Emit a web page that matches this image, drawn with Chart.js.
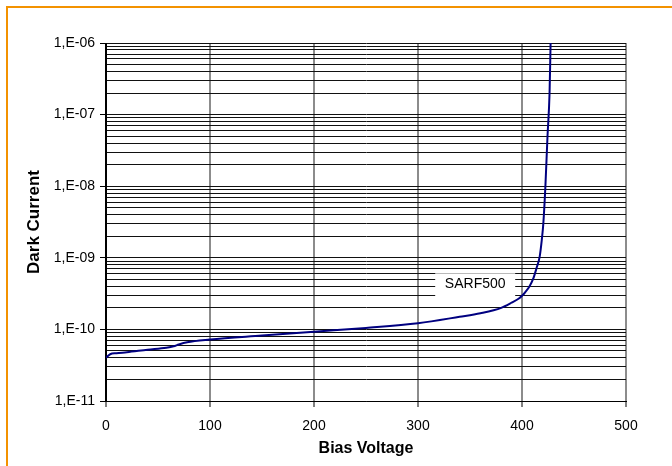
<!DOCTYPE html>
<html lang="en">

<head>
    <meta charset="UTF-8">
    <title>Dark Current vs Bias Voltage</title>
    <script src="https://cdn.jsdelivr.net/npm/chart.js"></script>
    <style>
        body {
            margin: 0;
            padding: 0;
            background: #ffffff;
            overflow: hidden;
        }

        #frame {
            position: absolute;
            left: 6px;
            top: 6px;
            width: 700px;
            height: 500px;
            border-left: 2px solid #f39200;
            border-top: 2px solid #f39200;
        }

        #chart-container {
            position: absolute;
            left: 0;
            top: 0;
            width: 672px;
            height: 466px;
        }
    </style>
</head>

<body>
    <div id="frame"></div>
    <div id="chart-container">
        <canvas id="ivChart" width="672" height="466"></canvas>
    </div>
    <script>
        // data
        const biasVoltage = [0, 1, 4, 10, 20, 40, 58, 65, 70, 78, 100, 150, 200, 250, 300, 340, 360, 380, 390,
            397, 400, 403, 407, 411, 414, 417, 419, 420.5, 422.5, 424.5, 426.5, 427.5];
        const darkCurrent = [4.0e-11, 4.15e-11, 4.5e-11, 4.65e-11, 4.8e-11, 5.2e-11, 5.55e-11, 5.8e-11, 6.15e-11, 6.6e-11,
            7.2e-11, 8.2e-11, 9.3e-11, 1.05e-10, 1.22e-10, 1.5e-10, 1.68e-10, 2.0e-10, 2.36e-10,
            2.7e-10, 2.95e-10, 3.3e-10, 3.95e-10, 5.2e-10, 7.2e-10, 1.04e-9, 1.77e-9, 3.0e-9, 1.0e-8, 4.9e-8, 2.0e-7, 1.0e-6];
        const decades = [-11, -10, -9, -8, -7, -6];
        const xTicks = [0, 100, 200, 300, 400, 500];
        const seriesName = 'SARF500';
        const seriesLabelAt = { x: 355, y: 4.0e-10 };

        const font = "'Liberation Sans', Arial, sans-serif";

        // 1,2..9 x 10^n grid lines, label only the decades
        let yTicks = [];
        decades.forEach((e, i) => {
            const last = i === decades.length - 1;
            for (let m = 1; m <= (last ? 1 : 9); m++) {
                yTicks.push({ value: Number((m + 'e' + e)), major: m === 1 });
            }
        });

        function isDecade(v) {
            const l = Math.log10(v);
            return Math.abs(l - Math.round(l)) < 1e-6;
        }

        const seriesLabel = {
            id: 'seriesLabel',
            beforeDatasetsDraw(chart) {
                const c = chart.ctx;
                const px = chart.scales.x.getPixelForValue(seriesLabelAt.x);
                const py = chart.scales.y.getPixelForValue(seriesLabelAt.y);
                c.save();
                c.fillStyle = '#ffffff';
                c.fillRect(px - 40, py - 13, 80, 26);
                c.fillStyle = '#000000';
                c.font = '14px ' + font;
                c.textAlign = 'center';
                c.textBaseline = 'middle';
                c.fillText(seriesName, px, py - 2);
                c.restore();
            }
        };

        const ctx = document.getElementById('ivChart').getContext('2d');
        const chart = new Chart(ctx, {
            type: 'line',
            data: {
                datasets: [{
                    label: seriesName,
                    data: biasVoltage.map((v, i) => ({ x: v, y: darkCurrent[i] })),
                    borderColor: '#000080',
                    borderWidth: 2,
                    pointRadius: 0,
                    cubicInterpolationMode: 'monotone',
                    fill: false
                }]
            },
            options: {
                responsive: false,
                animation: false,
                layout: {
                    padding: { left: 8, top: 43, right: 46, bottom: 8 }
                },
                plugins: {
                    legend: { display: false },
                    tooltip: { enabled: false }
                },
                scales: {
                    x: {
                        type: 'linear',
                        min: 0,
                        max: 500,
                        afterFit: scale => { scale.height = 57; },
                        afterBuildTicks: scale => { scale.ticks = xTicks.map(v => ({ value: v })); },
                        border: { display: true, color: '#000000', width: 1 },
                        grid: {
                            color: c => c.tick && c.tick.value === 0 ? '#000000' : '#8c8c8c',
                            lineWidth: 2,
                            tickLength: 6,
                            tickColor: '#000000',
                            tickWidth: 1
                        },
                        ticks: {
                            color: '#000000',
                            font: { family: font, size: 14 },
                            padding: 11,
                            maxRotation: 0
                        },
                        title: {
                            display: true,
                            text: 'Bias Voltage',
                            color: '#000000',
                            font: { family: font, size: 16, weight: 'bold' },
                            padding: 0
                        }
                    },
                    y: {
                        type: 'logarithmic',
                        min: 1e-11,
                        max: 1e-6,
                        afterFit: scale => { scale.width = 98; },
                        afterBuildTicks: scale => { scale.ticks = yTicks.map(t => ({ value: t.value, major: t.major })); },
                        border: { display: true, color: '#000000', width: 1 },
                        grid: {
                            color: '#111111',
                            lineWidth: 1,
                            tickLength: 6,
                            tickColor: c => c.tick && isDecade(c.tick.value) ? '#000000' : 'rgba(0,0,0,0)',
                            tickWidth: 1
                        },
                        ticks: {
                            autoSkip: false,
                            color: '#000000',
                            font: { family: font, size: 14 },
                            padding: 5,
                            callback: v => {
                                if (!isDecade(v)) return '';
                                const e = Math.round(Math.log10(v));
                                return '1,E-' + String(-e).padStart(2, '0');
                            }
                        },
                        title: {
                            display: true,
                            text: 'Dark Current',
                            color: '#000000',
                            font: { family: font, size: 17, weight: 'bold' },
                            padding: { top: 16 }
                        }
                    }
                }
            },
            plugins: [seriesLabel]
        });
    </script>
</body>

</html>
